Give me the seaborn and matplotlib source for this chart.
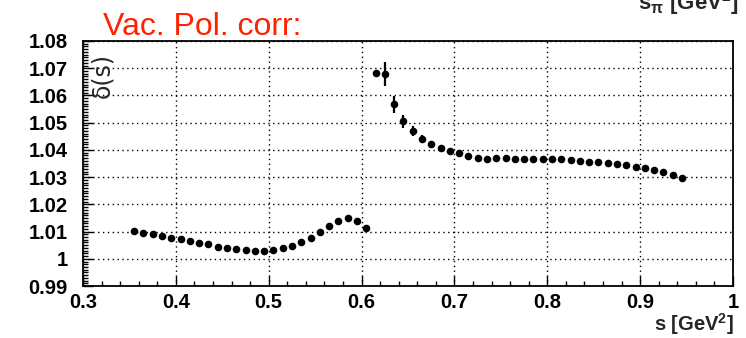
import numpy as np
import pandas as pd
import matplotlib
matplotlib.use("Agg")
import matplotlib.pyplot as plt
from matplotlib.ticker import MultipleLocator, FormatStrFormatter
import seaborn as sns


# 1. Data
s_low = [0.355, 0.365, 0.375, 0.385, 0.395, 0.405, 0.415, 0.425, 0.435,
         0.445, 0.455, 0.465, 0.475, 0.485, 0.495, 0.505, 0.515, 0.525,
         0.535, 0.545, 0.555, 0.565, 0.575, 0.585, 0.595, 0.605]
delta_low = [1.0102, 1.0096, 1.0090, 1.0083, 1.0077, 1.0071, 1.0065, 1.0059,
             1.0054, 1.0045, 1.0040, 1.0036, 1.0033, 1.0030, 1.0030, 1.0033,
             1.0038, 1.0047, 1.0061, 1.0077, 1.0100, 1.0121, 1.0140, 1.0149,
             1.0137, 1.0112]

s_high = [0.615, 0.625, 0.635, 0.645, 0.655, 0.665, 0.675, 0.685, 0.695,
          0.705, 0.715, 0.725, 0.735, 0.745, 0.755, 0.765, 0.775, 0.785,
          0.795, 0.805, 0.815, 0.825, 0.835, 0.845, 0.855, 0.865, 0.875,
          0.885, 0.895, 0.905, 0.915, 0.925, 0.935, 0.945]
delta_high = [1.0683, 1.0678, 1.0567, 1.0506, 1.0469, 1.0441, 1.0421, 1.0406,
              1.0396, 1.0387, 1.0378, 1.0371, 1.0367, 1.0369, 1.0369, 1.0368,
              1.0368, 1.0368, 1.0367, 1.0366, 1.0365, 1.0363, 1.0360, 1.0357,
              1.0356, 1.0352, 1.0348, 1.0344, 1.0336, 1.0332, 1.0325, 1.0318,
              1.0307, 1.0295]
err_high = [0.0008, 0.0044, 0.0032, 0.0024, 0.0019, 0.0013, 0.0009, 0.0007,
            0.0005, 0.0004, 0.0004, 0.0003, 0.0003, 0.0003, 0.0003, 0.0003,
            0.0003, 0.0003, 0.0003, 0.0003, 0.0003, 0.0003, 0.0003, 0.0003,
            0.0003, 0.0003, 0.0003, 0.0003, 0.0003, 0.0003, 0.0003, 0.0003,
            0.0003, 0.0003]

df = pd.DataFrame({
    "s": s_low + s_high,
    "delta": delta_low + delta_high,
    "err": [0.0] * len(s_low) + err_high,
})


# 2. Plot
sns.set_style("ticks")
plt.rcParams["font.family"] = ["Liberation Sans", "DejaVu Sans"]
plt.rcParams["mathtext.default"] = "regular"

fig = plt.figure(figsize=(7.46, 3.38), dpi=100)
ax = fig.add_axes([0.1113, 0.1538, 0.8713, 0.7249])

ax.errorbar(df["s"], df["delta"], yerr=df["err"], fmt="none",
            ecolor="black", elinewidth=1.6, capsize=0, zorder=3)
sns.scatterplot(data=df, x="s", y="delta", ax=ax, color="black",
                s=30, linewidth=0, zorder=4, legend=False)

ax.set_xlim(0.3, 1.0)
ax.set_ylim(0.99, 1.08)
ax.xaxis.set_major_locator(MultipleLocator(0.1))
ax.xaxis.set_minor_locator(MultipleLocator(0.02))
ax.yaxis.set_major_locator(MultipleLocator(0.01))
ax.yaxis.set_minor_locator(MultipleLocator(0.001))
ax.xaxis.set_major_formatter(FormatStrFormatter("%g"))
ax.yaxis.set_major_formatter(FormatStrFormatter("%g"))

ax.tick_params(which="both", direction="in", top=False, right=False,
               colors="black", width=1.0)
ax.tick_params(which="major", length=7, labelsize=14.5, pad=5)
ax.tick_params(axis="y", which="major", pad=11)
ax.tick_params(which="minor", length=3.5)
for lab in ax.get_xticklabels() + ax.get_yticklabels():
    lab.set_fontweight("bold")

for sp in ax.spines.values():
    sp.set_visible(True)
    sp.set_color("black")
    sp.set_linewidth(1.3)

ax.grid(True, which="major", color="black", linestyle=(0, (1, 2.5)),
        linewidth=1.0)
ax.set_axisbelow(True)

ax.set_xlabel("")
ax.set_ylabel("")
ax.text(0.011, 0.95, "δ(s)", transform=ax.transAxes, rotation=90,
        ha="left", va="top", fontsize=17, family=["DejaVu Sans"])
fig.text(0.984, 0.004, "s [GeV$^2$]", ha="right", va="bottom",
         fontsize=14.5, fontweight="bold")
fig.text(0.138, 0.895, "Vac. Pol. corr:", ha="left", va="baseline",
         fontsize=23, color="#ff2200")
fig.text(0.99, 0.972, r"s$_\pi$ [GeV$^2$]", ha="right", va="baseline",
         fontsize=16, fontweight="bold")

fig.savefig("out.png", dpi=100)
